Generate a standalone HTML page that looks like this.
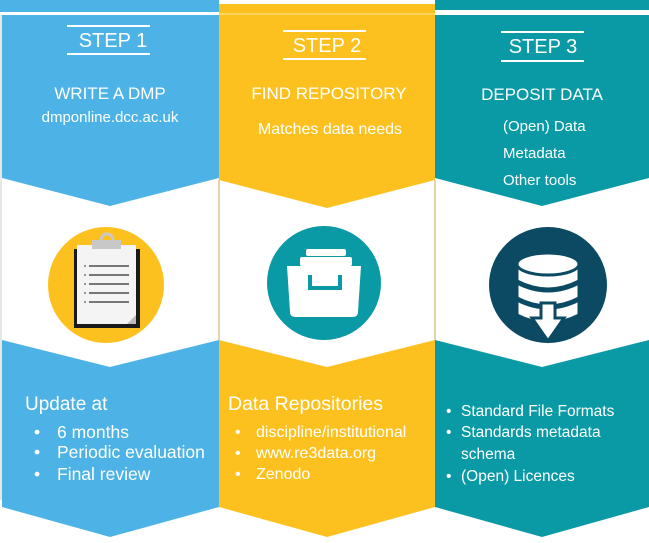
<!DOCTYPE html>
<html><head><meta charset="utf-8"><style>
html,body{margin:0;padding:0;background:#fff;}
svg{display:block;font-family:"Liberation Sans",sans-serif;}
</style></head><body>
<svg width="649" height="543" viewBox="0 0 649 543">
<rect width="649" height="543" fill="#fff"/>
<rect x="0" y="0" width="219" height="12" fill="#4db3e6"/>
<rect x="435" y="0" width="214" height="10" fill="#0a9aa6"/>
<polygon points="2,15 219,15 219,178 110,206 2,178" fill="#4db3e6"/>
<polygon points="219,4 435,4 435,180 327,208 219,180" fill="#fdc11f"/>
<rect x="219" y="13" width="216" height="2" fill="#fdd35a"/>
<polygon points="435,15 649,15 649,178 542,206 435,178" fill="#0a9aa6"/>
<line x1="219" y1="180" x2="219" y2="340" stroke="#dcc58a" stroke-width="1.5"/>
<line x1="435" y1="180" x2="435" y2="340" stroke="#dcc58a" stroke-width="1.5"/>
<line x1="1" y1="15" x2="1" y2="500" stroke="#cfcfcf" stroke-width="1"/>
<polygon points="2,340 110,367 219,340 219,507 110,537 2,507" fill="#4db3e6"/>
<polygon points="219,340 327,367 435,340 435,507 327,537 219,507" fill="#fdc11f"/>
<polygon points="435,340 542,367 649,340 649,507 542,537 435,507" fill="#0a9aa6"/>

<g fill="#fff" stroke="none">
<rect x="67" y="25" width="83" height="2"/><rect x="67" y="53" width="83" height="2"/>
<text x="113" y="47" font-size="20" text-anchor="middle">STEP 1</text>
<rect x="283" y="30" width="83" height="2"/><rect x="283" y="58" width="83" height="2"/>
<text x="327" y="52" font-size="20" text-anchor="middle">STEP 2</text>
<rect x="501" y="31" width="83" height="2"/><rect x="501" y="60" width="83" height="2"/>
<text x="543" y="53" font-size="20" text-anchor="middle">STEP 3</text>

<text x="110" y="99" font-size="17" text-anchor="middle">WRITE A DMP</text>
<text x="110" y="122" font-size="15" text-anchor="middle">dmponline.dcc.ac.uk</text>
<text x="329" y="99" font-size="17" text-anchor="middle">FIND REPOSITORY</text>
<text x="330" y="134" font-size="16" text-anchor="middle">Matches data needs</text>
<text x="542" y="100" font-size="17" text-anchor="middle">DEPOSIT DATA</text>
<text x="503" y="131" font-size="15">(Open) Data</text>
<text x="503" y="158" font-size="15">Metadata</text>
<text x="503" y="185" font-size="15">Other tools</text>

<text x="25" y="410" font-size="19">Update at</text>
<text x="34" y="438" font-size="17.5">•</text><text x="57" y="438" font-size="17.5">6 months</text>
<text x="34" y="458" font-size="17.5">•</text><text x="57" y="458" font-size="17.5">Periodic evaluation</text>
<text x="34" y="480" font-size="17.5">•</text><text x="57" y="480" font-size="17.5">Final review</text>

<text x="228" y="410" font-size="19.5">Data Repositories</text>
<text x="235" y="437" font-size="16">•</text><text x="256" y="437" font-size="16">discipline/institutional</text>
<text x="235" y="458" font-size="16">•</text><text x="256" y="458" font-size="16">www.re3data.org</text>
<text x="235" y="479" font-size="16">•</text><text x="256" y="479" font-size="16">Zenodo</text>

<text x="446" y="416" font-size="15.5">•</text><text x="461" y="416" font-size="15.5">Standard File Formats</text>
<text x="446" y="437" font-size="15.5">•</text><text x="461" y="437" font-size="15.5">Standards metadata</text>
<text x="461" y="459" font-size="15.5">schema</text>
<text x="446" y="481" font-size="15.5">•</text><text x="461" y="481" font-size="15.5">(Open) Licences</text>
</g>

<ellipse cx="106" cy="285" rx="58" ry="58" fill="#fdc11f"/>
<rect x="74" y="249" width="66" height="79" fill="#1a1a1a"/>
<rect x="77" y="245" width="59" height="79" fill="#f4f4f4"/>
<polygon points="127,324 136,315 136,324" fill="#bbb"/>
<rect x="92" y="240" width="29" height="9" fill="#c8c8c8"/>
<circle cx="107" cy="240" r="6" fill="none" stroke="#c8c8c8" stroke-width="3"/>
<g fill="#777">
<rect x="89" y="265" width="40" height="2"/><rect x="89" y="274" width="40" height="2"/>
<rect x="89" y="283" width="40" height="2"/><rect x="89" y="292" width="40" height="2"/>
<rect x="89" y="301" width="40" height="2"/>
<circle cx="85" cy="266" r="1"/><circle cx="85" cy="275" r="1"/><circle cx="85" cy="284" r="1"/><circle cx="85" cy="293" r="1"/><circle cx="85" cy="302" r="1"/>
</g>
<circle cx="324" cy="283" r="57" fill="#0a9aa6"/>
<g fill="#fff">
<rect x="306" y="249" width="40" height="7" rx="2"/>
<rect x="300" y="257" width="52" height="9" rx="2"/>
<path d="M287 266 H361 L358 312 Q358 317 352 317 H296 Q290 317 290 312 Z"/>
</g>
<path d="M310 275 V288 H340 V275" fill="none" stroke="#0a9aa6" stroke-width="4"/>
<ellipse cx="548" cy="285" rx="59" ry="58" fill="#0b4a62"/>
<g fill="#fff" stroke="#0b4a62" stroke-width="3">
<path d="M517 315 V300 Q548 316 579 300 V315 Q548 331 517 315 Z"/>
<path d="M517 298 V283 Q548 299 579 283 V298 Q548 314 517 298 Z"/>
<path d="M517 281 V266 Q548 282 579 266 V281 Q548 297 517 281 Z"/>
<ellipse cx="548" cy="264" rx="31" ry="11"/>
<polygon points="541,303 555,303 555,318 564,318 548,341 532,318 541,318"/>
</g>
</svg>
</body></html>
